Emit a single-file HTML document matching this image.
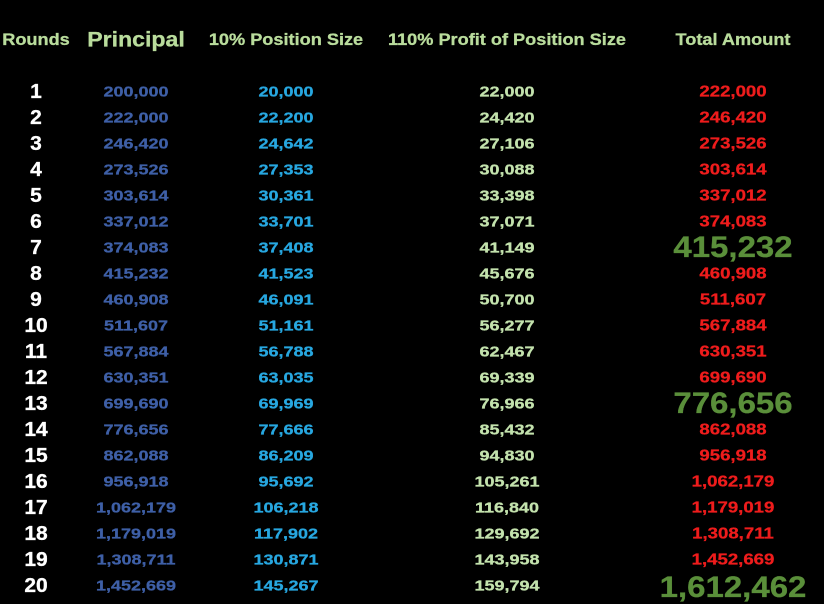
<!DOCTYPE html>
<html><head><style>
body{margin:0;width:824px;height:600px;background:#000;overflow:hidden;font-family:"Liberation Sans",Arial,sans-serif;font-weight:bold;position:relative}
.t{position:absolute;transform:translate(-50%,-50%) scaleX(1.2);white-space:nowrap;line-height:1;-webkit-text-stroke:0.3px currentColor}
.h{color:#b9dc9c;font-size:16.5px;transform:translate(-50%,-50%) scaleX(1.1)}
.r{color:#fff;font-size:20px;transform:translate(-50%,-50%) scaleX(1.05)}
.p{color:#3e5fa6;font-size:15px}
.s{color:#27a7e0;font-size:15px}
.f{color:#c3e2ad;font-size:15px}
.a{color:#ee1c1c;font-size:15.5px}
.g{color:#5a8f3a;font-size:30px;transform:translate(-50%,-50%) scaleX(1.1)}
</style></head><body>
<div class="t h" style="left:36px;top:40px">Rounds</div>
<div class="t h" style="left:136px;top:40px;font-size:21px">Principal</div>
<div class="t h" style="left:286px;top:40px">10% Position Size</div>
<div class="t h" style="left:507px;top:40px">110% Profit of Position Size</div>
<div class="t h" style="left:733px;top:40px">Total Amount</div>
<div id="rows"></div>
<script>
var d=[[200000,20000,22000,222000],[222000,22200,24420,246420],[246420,24642,27106,273526],[273526,27353,30088,303614],[303614,30361,33398,337012],[337012,33701,37071,374083],[374083,37408,41149,415232],[415232,41523,45676,460908],[460908,46091,50700,511607],[511607,51161,56277,567884],[567884,56788,62467,630351],[630351,63035,69339,699690],[699690,69969,76966,776656],[776656,77666,85432,862088],[862088,86209,94830,956918],[956918,95692,105261,1062179],[1062179,106218,116840,1179019],[1179019,117902,129692,1308711],[1308711,130871,143958,1452669],[1452669,145267,159794,1612462]];
var h='';function f(n){return n.toLocaleString('en-US');}
d.forEach(function(r,i){var y=92+i*26;
h+='<div class="t r" style="left:36px;top:'+y+'px">'+(i+1)+'</div>';
h+='<div class="t p" style="left:136px;top:'+y+'px">'+f(r[0])+'</div>';
h+='<div class="t s" style="left:286px;top:'+y+'px">'+f(r[1])+'</div>';
h+='<div class="t f" style="left:507px;top:'+y+'px">'+f(r[2])+'</div>';
var big=(i==6||i==12||i==19);
h+='<div class="t '+(big?'g':'a')+'" style="left:733px;top:'+(y+(i==19?2:0))+'px">'+f(r[3])+'</div>';});
document.getElementById('rows').innerHTML=h;
</script>
</body></html>
